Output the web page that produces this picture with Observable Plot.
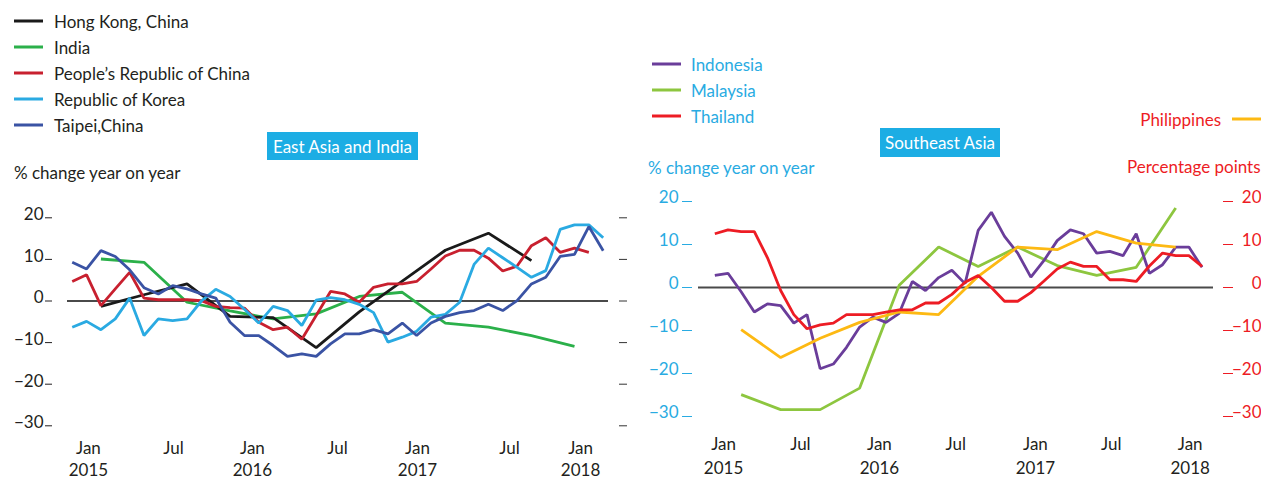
<!DOCTYPE html>
<html><head><meta charset="utf-8">
<script src="https://cdn.jsdelivr.net/npm/d3@7"></script>
<script src="https://cdn.jsdelivr.net/npm/@observablehq/plot@0.6"></script>
<style>
body{margin:0;background:#fff;}
#wrap{position:relative;width:1261px;height:479px;overflow:hidden;font-family:Lato,"Open Sans",sans-serif;color:#231f20;}
#wrap svg{position:absolute;overflow:visible;}
.t{position:absolute;white-space:nowrap;font-size:17px;line-height:1;transform:translateY(-50%);}
.sw{position:absolute;height:3px;width:29px;transform:translateY(-50%);}
.box{position:absolute;background:#1cade4;color:#fff;font-size:17px;display:flex;align-items:center;justify-content:center;}
</style></head><body><div id="wrap"></div>
<script>
// ---------- data ----------
const months = ["Dec 2014","Jan 2015","Feb 2015","Mar 2015","Apr 2015","May 2015","Jun 2015","Jul 2015","Aug 2015","Sep 2015","Oct 2015","Nov 2015","Dec 2015",
  "Jan 2016","Feb 2016","Mar 2016","Apr 2016","May 2016","Jun 2016","Jul 2016","Aug 2016","Sep 2016","Oct 2016","Nov 2016","Dec 2016",
  "Jan 2017","Feb 2017","Mar 2017","Apr 2017","May 2017","Jun 2017","Jul 2017","Aug 2017","Sep 2017","Oct 2017","Nov 2017","Dec 2017","Jan 2018"];
const quarterMonths = ["Feb 2015","May 2015","Aug 2015","Nov 2015","Feb 2016","May 2016","Aug 2016","Nov 2016","Feb 2017","May 2017","Aug 2017","Nov 2017"];

// East Asia and India (% change year on year)
const hongKong = [-1.3, 1.5, 4.1, -3.7, -4.0, -11.2, -2.6, 4.8, 12.2, 16.3, 9.7];           // quarterly
const india    = [10.1, 9.3, -0.3, -2.4, -4.3, -3.1, 1.1, 2.1, -5.3, -6.3, -8.3, -10.9];    // quarterly
const prc      = [4.7, 6.3, -1.1, 2.9, 6.9, 0.7, 0.3, 0.3, 0.3, 0.1, -1.3, -1.6, -1.7, -5.1, -6.9, -6.3, -9.2, -3.5, 2.3, 1.7,
                  -0.3, 3.3, 4.1, 4.1, 4.7, 7.7, 10.8, 12.2, 12.2, 10.3, 7.2, 8.4, 13.3, 15.2, 11.7, 12.7, 11.7];
const korea    = [-6.3, -4.9, -6.9, -4.3, 0.7, -8.3, -4.3, -4.7, -4.3, 0.0, 2.8, 1.1, -2.0, -5.3, -1.3, -2.3, -5.9, 0.2, 0.8, 0.3,
                  -0.8, -2.8, -9.9, -8.7, -7.3, -3.9, -3.2, -0.3, 8.8, 12.7, 10.4, 8.1, 5.7, 7.3, 17.2, 18.3, 18.3, 15.2];
const taipei   = [9.3, 7.7, 12.1, 10.7, 7.5, 3.2, 1.7, 3.7, 2.9, 1.7, 0.7, -5.1, -8.3, -8.3, -10.7, -13.3, -12.7, -13.3, -10.3, -7.9,
                  -7.9, -6.9, -7.9, -5.3, -8.3, -5.3, -3.7, -2.8, -2.3, -0.8, -2.3, 0.1, 4.1, 5.7, 10.7, 11.2, 17.9, 12.1];

// Southeast Asia
const indonesia   = [2.8, 3.3, -1.0, -5.7, -3.8, -4.2, -8.3, -6.3, -18.9, -17.8, -13.9, -9.2, -6.9, -8.1, -6.0, 1.4, -0.7, 2.3, 4.0, 0.9,
                     13.3, 17.5, 11.9, 8.0, 2.4, 6.3, 10.9, 13.4, 12.5, 8.0, 8.4, 7.4, 12.5, 3.3, 5.3, 9.4, 9.4, 4.7];
const malaysia    = [-24.9, -28.4, -28.4, -23.4, 0.5, 9.4, 4.9, 9.4, 5.1, 2.8, 4.7, 18.5];   // quarterly
const thailand    = [12.5, 13.4, 13.0, 13.0, 6.9, -0.7, -6.3, -9.6, -8.7, -8.3, -6.3, -6.3, -6.3, -5.7, -5.2, -5.2, -3.6, -3.6, -1.6, 1.2,
                     2.8, 0.0, -3.2, -3.2, -1.2, 1.5, 4.3, 5.9, 4.9, 4.9, 1.8, 1.8, 1.4, 5.0, 8.0, 7.4, 7.4, 4.9];
const philippines = [-9.8, -16.3, -11.8, -8.1, -5.7, -6.3, 2.6, 9.4, 8.8, 13.0, 10.3, 9.4];  // quarterly, percentage points

const yTicks = [20, 10, 0, -10, -20, -30];
const xTickLabels = ["Jan\n2015", "Jul", "Jan\n2016", "Jul", "Jan\n2017", "Jul", "Jan\n2018"];
const xTickPosLeft  = [1.13, 7.06, 12.56, 18.48, 24.06, 30.47, 35.42];   // month-index positions of labels, left panel
const xTickPosRight = [0.66, 6.5, 12.5, 18.3, 24.35, 30.1, 36.1];         // right panel

const leftSeries = [
  {name: "Hong Kong, China", color: "#1a1a1a", m: quarterMonths, v: hongKong},
  {name: "India", color: "#2bb04a", m: quarterMonths, v: india},
  {name: "People\u2019s Republic of China", color: "#c8202f", m: months, v: prc},
  {name: "Republic of Korea", color: "#2aaae2", m: months, v: korea},
  {name: "Taipei,China", color: "#3a53a4", m: months, v: taipei}
];
const rightSeries = [
  {name: "Indonesia", color: "#6a3d9a", m: months, v: indonesia},
  {name: "Malaysia", color: "#8dc63f", m: quarterMonths, v: malaysia},
  {name: "Thailand", color: "#ed1c24", m: months, v: thailand},
  {name: "Philippines", color: "#fdb913", m: quarterMonths, v: philippines}
];
const drawOrderLeft = ["India", "Hong Kong, China", "People\u2019s Republic of China", "Republic of Korea", "Taipei,China"];
const drawOrderRight = ["Malaysia", "Indonesia", "Philippines", "Thailand"];

// ---------- helpers ----------
const toRows = s => s.v.map((y, i) => ({x: months.indexOf(s.m[i]), y}));
const lineMarks = (series, order) => order.map(n => {
  const s = series.find(d => d.name === n);
  return Plot.line(toRows(s), {x: "x", y: "y", stroke: s.color, strokeWidth: 2.8, strokeLinejoin: "miter", strokeLinecap: "butt"});
});
const FONT = "Lato, 'Open Sans', sans-serif";
const wrap = document.getElementById("wrap");

// ---------- left panel ----------
const left = Plot.plot({
  width: 630, height: 289,
  marginTop: 27.3, marginBottom: 53.7, marginLeft: 67, marginRight: 22,
  x: {domain: [-0.33, 37.37], axis: null},
  y: {domain: [-30, 20], label: null},
  style: {fontFamily: FONT, fontSize: "17px", color: "#231f20", background: "transparent", overflow: "visible"},
  marks: [
    Plot.ruleY([0], {stroke: "#4a4a4a", strokeWidth: 2}),
    ...lineMarks(leftSeries, drawOrderLeft),
    Plot.axisY(yTicks, {anchor: "left", label: null, tickSize: 0, tickPadding: 24, dy: -3, fontSize: 17, color: "#231f20"}),
    Plot.axisY(yTicks, {anchor: "left", label: null, tickSize: 7, tickFormat: () => "", dx: -15, color: "#231f20"}),
    Plot.axisY(yTicks, {anchor: "right", label: null, tickSize: 8, tickFormat: () => "", dx: 10, color: "#333"}),
    Plot.text(xTickPosLeft.map((p, i) => ({p, t: xTickLabels[i]})),
      {x: "p", text: "t", frameAnchor: "bottom", lineAnchor: "top", dy: 11.7, fontSize: 17, lineHeight: 1.33, fill: "#231f20"})
  ]
});
left.style.left = "0px"; left.style.top = "190px";
wrap.appendChild(left);

// ---------- right panel ----------
const right = Plot.plot({
  width: 631, height: 299,
  marginTop: 21, marginBottom: 63, marginLeft: 68, marginRight: 48,
  x: {domain: [-1.24, 37.87], axis: null},
  y: {domain: [-30, 20], label: null},
  style: {fontFamily: FONT, fontSize: "17px", color: "#231f20", background: "transparent", overflow: "visible"},
  marks: [
    Plot.ruleY([0], {stroke: "#4a4a4a", strokeWidth: 2}),
    ...lineMarks(rightSeries, drawOrderRight),
    Plot.axisY(yTicks, {anchor: "left", label: null, tickSize: 0, tickPadding: 20, dy: -4, fontSize: 17, color: "#29abe2"}),
    Plot.axisY(yTicks, {anchor: "left", label: null, tickSize: 10, tickFormat: () => "", dx: -6, color: "#29abe2"}),
    Plot.axisY(yTicks, {anchor: "right", label: null, tickSize: 10, tickFormat: () => "", dx: 9, color: "#ed1c24"}),
    Plot.axisY(yTicks, {anchor: "right", label: null, tickSize: 0, tickPadding: 48, textAnchor: "end", dy: -4, fontSize: 17, color: "#ed1c24"}),
    Plot.text(xTickPosRight.map((p, i) => ({p, t: xTickLabels[i]})),
      {x: "p", text: "t", frameAnchor: "bottom", lineAnchor: "top", dy: 17, fontSize: 17, lineHeight: 1.38, fill: "#231f20"})
  ]
});
right.style.left = "630px"; right.style.top = "180px";
wrap.appendChild(right);

// ---------- legends & titles (HTML) ----------
function addText(txt, x, y, color, align) {
  const d = document.createElement("div");
  d.className = "t"; d.textContent = txt; d.style.top = y + "px"; d.style.color = color;
  if (align === "right") { d.style.right = (1261 - x) + "px"; } else { d.style.left = x + "px"; }
  wrap.appendChild(d);
}
function addSwatch(x, y, color) {
  const d = document.createElement("div");
  d.className = "sw"; d.style.left = x + "px"; d.style.top = y + "px"; d.style.background = color;
  wrap.appendChild(d);
}
leftSeries.forEach((s, i) => {
  const y = 21 + 26 * i;
  addSwatch(14, y, s.color);
  addText(s.name, 54, y, "#231f20");
});
rightSeries.filter(s => s.name !== "Philippines").forEach((s, i) => {
  const y = 64 + 26 * i;
  addSwatch(652, y, s.color);
  addText(s.name, 691, y, "#29abe2");
});
const ph = rightSeries.find(s => s.name === "Philippines");
addText(ph.name, 1221, 119, "#ed1c24", "right");
addSwatch(1232, 119, ph.color);
addText("% change year on year", 14, 172, "#231f20");
addText("% change year on year", 648, 167, "#29abe2");
addText("Percentage points", 1127, 166, "#ed1c24");

function addBox(txt, x, y, w, h) {
  const d = document.createElement("div");
  d.className = "box"; d.textContent = txt;
  Object.assign(d.style, {left: x + "px", top: y + "px", width: w + "px", height: h + "px"});
  wrap.appendChild(d);
}
addBox("East Asia and India", 267, 132, 151, 28);
addBox("Southeast Asia", 880, 128, 120, 29);
</script>
</body></html>
